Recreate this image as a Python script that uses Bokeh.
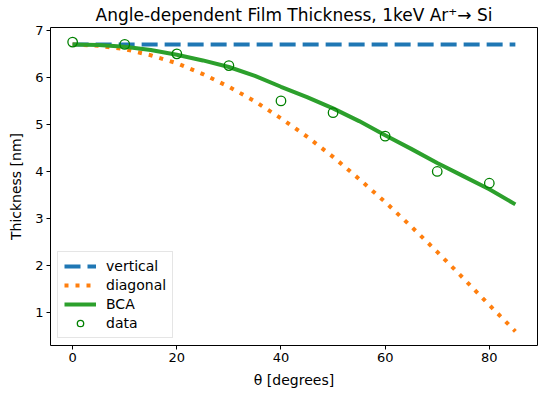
from bokeh.plotting import figure
from bokeh.models import Range1d, FixedTicker, Legend, LegendItem
from bokeh.embed import file_html
from bokeh.resources import INLINE

# angles for model curves (degrees)
theta = [0, 5, 10, 15, 20, 25, 30, 35, 40, 45, 50, 55, 60, 65, 70, 75, 80, 85]
vertical = [6.70] * len(theta)
diagonal = [6.70, 6.67, 6.60, 6.47, 6.30, 6.07, 5.80, 5.49, 5.13, 4.74,
            4.31, 3.84, 3.35, 2.83, 2.29, 1.73, 1.16, 0.60]
bca = [6.70, 6.69, 6.65, 6.58, 6.48, 6.36, 6.22, 6.03, 5.80, 5.58,
       5.34, 5.07, 4.77, 4.48, 4.18, 3.90, 3.62, 3.30]

# measured data
data_theta = [0, 10, 20, 30, 40, 50, 60, 70, 80]
data_thick = [6.75, 6.70, 6.50, 6.25, 5.50, 5.25, 4.75, 4.00, 3.75]

x_ticks = [0, 20, 40, 60, 80]
y_ticks = [1, 2, 3, 4, 5, 6, 7]

FONT = "DejaVu Sans"

p = figure(width=538, height=395, output_backend="svg", toolbar_location=None,
           x_range=Range1d(-4.25, 89.25), y_range=Range1d(0.30, 7.06),
           min_border_left=50, min_border_right=1, min_border_top=0,
           min_border_bottom=50,
           title="Angle-dependent Film Thickness, 1keV Ar\u207a\u2192 Si")

p.title.text_font = FONT
p.title.text_font_size = "17px"
p.title.text_font_style = "normal"
p.title.text_color = "black"
p.title.align = "center"
p.title.standoff = 5

p.xgrid.visible = False
p.ygrid.visible = False
p.outline_line_color = "black"
p.outline_line_width = 1
p.outline_line_alpha = 1

for ax in (p.xaxis[0], p.yaxis[0]):
    ax.axis_line_color = None
    ax.major_tick_in = 0
    ax.major_tick_out = 4
    ax.minor_tick_in = 0
    ax.minor_tick_out = 0
    ax.major_tick_line_color = "black"
    ax.major_label_text_font = FONT
    ax.major_label_text_font_size = "13px"
    ax.major_label_text_color = "black"
    ax.axis_label_text_font = FONT
    ax.axis_label_text_font_size = "14px"
    ax.axis_label_text_font_style = "normal"
    ax.axis_label_text_color = "black"
    ax.major_label_standoff = 3

p.xaxis.ticker = FixedTicker(ticks=x_ticks)
p.yaxis.ticker = FixedTicker(ticks=y_ticks)
p.xaxis.axis_label = "\u03b8 [degrees]"
p.yaxis.axis_label = "Thickness [nm]"
p.xaxis.axis_label_standoff = 7
p.yaxis.axis_label_standoff = 8

r_v = p.line(theta, vertical, line_color="#1f77b4", line_width=4, line_dash="16 7")
r_d = p.line(theta, diagonal, line_color="#ff7f0e", line_width=4, line_dash="4 7")
r_b = p.line(theta, bca, line_color="#2ca02c", line_width=4)
r_p = p.scatter(data_theta, data_thick, marker="circle", size=9.5,
                fill_color=None, line_color="#008000", line_width=1.3)

legend = Legend(items=[
    LegendItem(label="vertical", renderers=[r_v]),
    LegendItem(label="diagonal", renderers=[r_d]),
    LegendItem(label="BCA", renderers=[r_b]),
    LegendItem(label="data", renderers=[r_p]),
], location="bottom_left")
legend.label_text_font = FONT
legend.label_text_font_size = "14px"
legend.label_text_color = "black"
legend.glyph_width = 32
legend.glyph_height = 16
legend.label_height = 16
legend.spacing = 3
legend.padding = 6
legend.margin = 7
legend.label_standoff = 10
legend.border_line_color = "#cccccc"
legend.border_line_width = 1
legend.background_fill_alpha = 0.8
p.add_layout(legend)

open("out.html", "w").write(file_html(p, INLINE))
